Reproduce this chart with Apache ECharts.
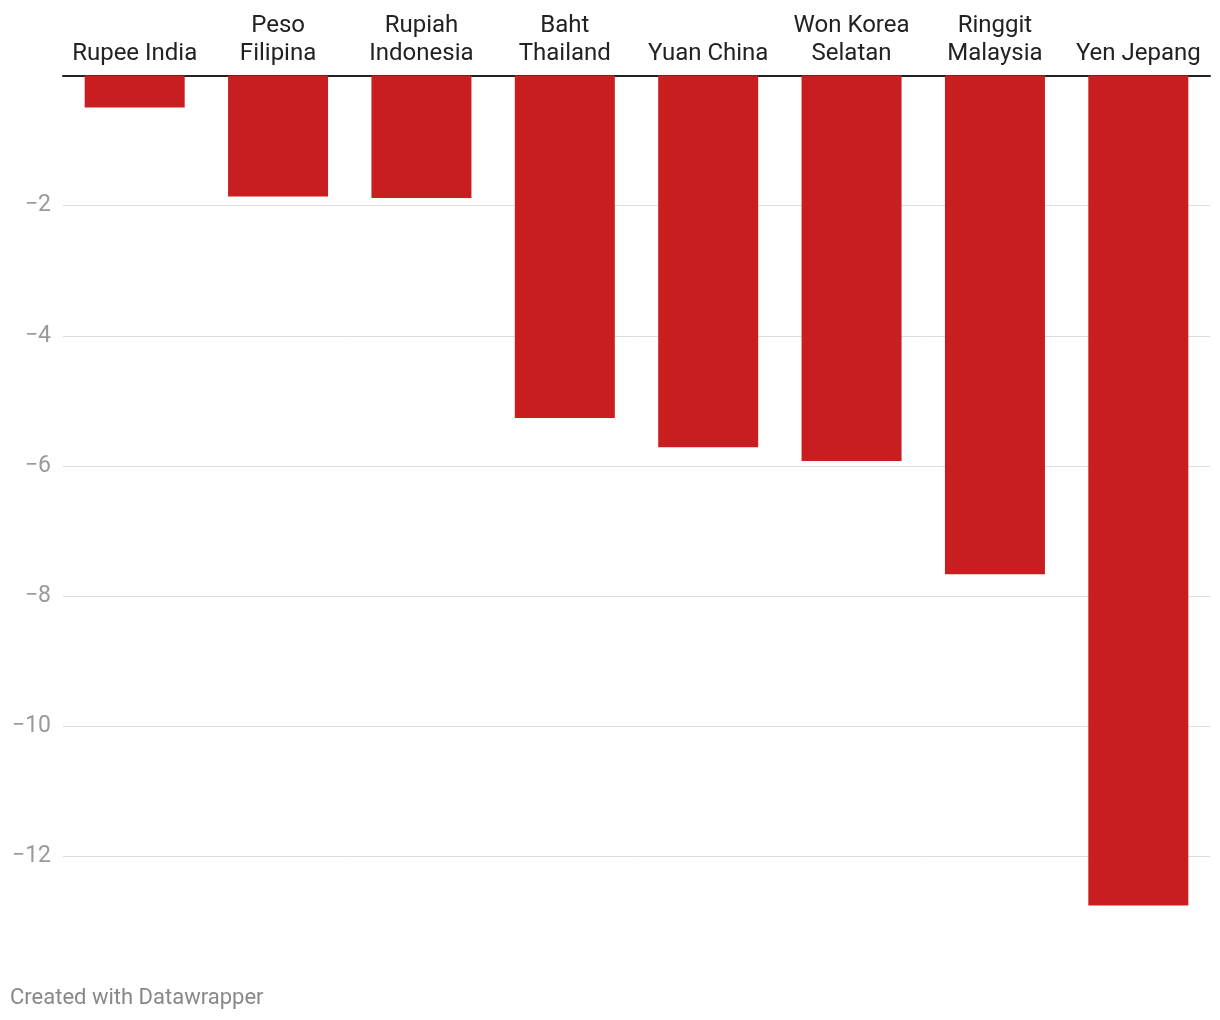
<!DOCTYPE html>
<html>
<head>
<meta charset="utf-8">
<script src="https://cdn.jsdelivr.net/npm/echarts@6/dist/echarts.min.js"></script>
<style>
html,body{margin:0;padding:0;background:#fff;}
#chart{width:1220px;height:1020px;}
</style>
</head>
<body>
<div id="chart"></div>
<script>
const categories = ['Rupee India', 'Peso\nFilipina', 'Rupiah\nIndonesia', 'Baht\nThailand', 'Yuan China', 'Won Korea\nSelatan', 'Ringgit\nMalaysia', 'Yen Jepang'];
const values = [-0.49, -1.86, -1.88, -5.26, -5.71, -5.92, -7.66, -12.75];
const yTicks = [0, -2, -4, -6, -8, -10, -12];
const footer = 'Created with Datawrapper';

const chart = echarts.init(document.getElementById('chart'));
chart.setOption({
  animation: false,
  backgroundColor: '#ffffff',
  grid: { left: 63, right: 10, top: 75.5, bottom: 1020 - 75.5 - 14 * 65.1 },
  xAxis: {
    type: 'category',
    position: 'top',
    data: categories,
    axisLine: { show: true, onZero: true, lineStyle: { color: '#222', width: 2 } },
    axisTick: { show: false },
    axisLabel: {
      color: '#222', fontSize: 24, lineHeight: 28,
      fontFamily: 'Roboto', margin: 8, interval: 0
    }
  },
  yAxis: {
    type: 'value',
    min: -14, max: 0, interval: 2,
    axisLine: { show: false },
    axisTick: { show: false },
    splitLine: { show: true, showMinLine: false, showMaxLine: false, lineStyle: { color: '#dcdcdc', width: 1 } },
    axisLabel: {
      color: '#999', fontSize: 23, fontFamily: 'Roboto', margin: 12,
      padding: [3, 0, 0, 0],
      formatter: function (v) {
        if (yTicks.indexOf(v) < 0 || v === 0) return '';
        return String(v).replace('-', '\u2212');
      }
    }
  },
  series: [{
    type: 'bar',
    data: values,
    barWidth: 100,
    itemStyle: { color: '#c91e1f' }
  }],
  graphic: [{
    type: 'text',
    left: 10, top: 987,
    style: { text: footer, fill: '#888', font: '22px Roboto' }
  }]
});
</script>
</body>
</html>
